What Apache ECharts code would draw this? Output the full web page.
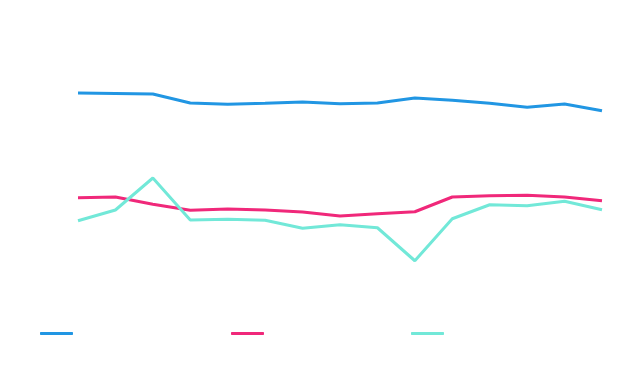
<!DOCTYPE html>
<html><head><meta charset="utf-8">
<script src="https://cdn.jsdelivr.net/npm/echarts@6/dist/echarts.min.js"></script>
<style>html,body{margin:0;padding:0;background:#fff}#c{width:640px;height:374px}</style>
</head><body><div id="c"></div>
<script>
var categories = ['1','2','3','4','5','6','7','8','9','10','11','12','13','14','15'];
var seriesA = [78.8,78.6,78.4,74.8,74.3,74.7,75.2,74.5,74.8,76.8,75.9,74.7,73.1,74.4,71.7];
var seriesB = [36.9,37.2,34.3,31.9,32.4,32.0,31.2,29.6,30.5,31.3,37.2,37.7,37.9,37.2,35.7];
var seriesC = [27.7,32.0,44.8,28.0,28.3,27.9,24.7,26.1,24.9,11.7,28.5,34.1,33.7,35.5,32.1];
var names = ['A', 'B', 'C'];
var colors = ['#2196e3', '#f0287a', '#72e8d8'];
var chart = echarts.init(document.getElementById('c'));
function lg(i, left) {
  return {show: true, left: left, top: 332, padding: 0, data: [{name: names[i], icon: 'roundRect'}],
    itemWidth: 33, itemHeight: 3,
    formatter: function(){return '';}, textStyle: {color: 'rgba(0,0,0,0)'}, selectedMode: false};
}
chart.setOption({
  animation: false,
  grid: {left: 78, right: 38, top: 40, bottom: 84},
  legend: [lg(0, 40), lg(1, 231), lg(2, 411)],
  xAxis: {type: 'category', data: categories, boundaryGap: false, show: false},
  yAxis: {type: 'value', min: 0, max: 100, show: false},
  series: [seriesA, seriesB, seriesC].map(function(d, i){
    return {name: names[i], type: 'line', data: d, showSymbol: false, symbol: 'none',
      lineStyle: {width: 3, color: colors[i]}, itemStyle: {color: colors[i]}};
  })
});
</script></body></html>
